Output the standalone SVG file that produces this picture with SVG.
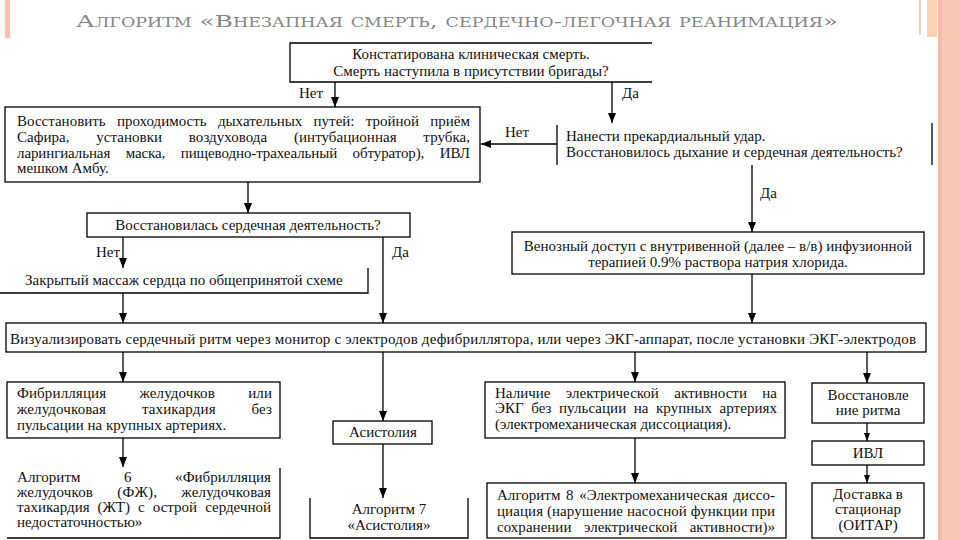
<svg xmlns="http://www.w3.org/2000/svg" width="960" height="540" viewBox="0 0 960 540" font-family="Liberation Serif, serif">
<style>
.t{font-size:15px;fill:#111}
.c{text-anchor:middle}
.b{fill:#fff;stroke:#000;stroke-width:1.3}
.o{fill:none;stroke:#000;stroke-width:1.3}
.ln{fill:none;stroke:#000;stroke-width:1.3}
.ttl{font-family:"DejaVu Serif","Liberation Serif",serif;font-size:17px;fill:#858585;font-variant:small-caps}
</style>
<defs>
<marker id="ar" markerUnits="userSpaceOnUse" markerWidth="10" markerHeight="8" refX="10" refY="4" orient="auto"><path d="M0,0 L10,4 L0,8 z" fill="#000"/></marker>
<marker id="as" markerUnits="userSpaceOnUse" markerWidth="8" markerHeight="6" refX="8" refY="3" orient="auto"><path d="M0,0 L8,3 L0,6 z" fill="#000"/></marker>
</defs>
<rect width="960" height="540" fill="#fff"/>
<g id="decor">
<rect x="5" y="0" width="5" height="38" fill="#f8c2ac"/>
<rect x="919" y="0" width="2" height="35" fill="#ead3c4"/>
<rect x="927" y="0" width="10" height="37" fill="#fbd2b6"/>
<rect x="938" y="0" width="22" height="540" fill="#f9c8b6"/>
<rect x="938" y="0" width="4" height="540" fill="#f6bca6"/>
</g>
<text class="ttl" x="76" y="27" textLength="762" lengthAdjust="spacingAndGlyphs">Алгоритм «Внезапная смерть, сердечно-легочная реанимация»</text>
<g id="connectors">
<path class="ln" d="M335,82 V107" marker-end="url(#ar)"/>
<path class="ln" d="M612,82 V123" marker-end="url(#ar)"/>
<path class="ln" d="M557,144 H481" marker-end="url(#ar)"/>
<path class="ln" d="M752,165 V232" marker-end="url(#ar)"/>
<path class="ln" d="M248,182 V213" marker-end="url(#ar)"/>
<path class="ln" d="M123,237 V268" marker-end="url(#ar)"/>
<path class="ln" d="M383,237 V323" marker-end="url(#ar)"/>
<path class="ln" d="M123,293 V323" marker-end="url(#ar)"/>
<path class="ln" d="M752,274 V323" marker-end="url(#ar)"/>
<path class="ln" d="M123,352 V382" marker-end="url(#ar)"/>
<path class="ln" d="M383,352 V421" marker-end="url(#ar)"/>
<path class="ln" d="M635,352 V382" marker-end="url(#ar)"/>
<path class="ln" d="M867,352 V383" marker-end="url(#ar)"/>
<path class="ln" d="M123,438 V467" marker-end="url(#ar)"/>
<path class="ln" d="M383,444 V498" marker-end="url(#ar)"/>
<path class="ln" d="M635,438 V483" marker-end="url(#ar)"/>
<path class="ln" d="M867,423 V441" marker-end="url(#as)"/>
<path class="ln" d="M867,465 V483" marker-end="url(#as)"/>
<text class="t" x="299" y="98">Нет</text>
<text class="t" x="622" y="98">Да</text>
<text class="t" x="505" y="137">Нет</text>
<text class="t" x="760" y="198">Да</text>
<text class="t" x="96" y="257">Нет</text>
<text class="t" x="392" y="257">Да</text>
</g>
<g id="n1">
<path class="o" d="M652,43 H290 V82 H652"/>
<text class="t c" x="471" y="59">Констатирована клиническая смерть.</text>
<text class="t c" x="471" y="76">Смерть наступила в присутствии бригады?</text>
</g>
<g id="n2">
<rect class="b" x="5" y="107" width="475" height="75"/>
<text class="t" x="17" y="126" textLength="453" lengthAdjust="spacing" style="word-spacing:7.5px">Восстановить проходимость дыхательных путей: тройной приём</text>
<text class="t" x="17" y="142" textLength="453" lengthAdjust="spacing" style="word-spacing:23px">Сафира, установки воздуховода (интубационная трубка,</text>
<text class="t" x="17" y="158" textLength="453" lengthAdjust="spacing" style="word-spacing:11.9px">ларингиальная маска, пищеводно-трахеальный обтуратор), ИВЛ</text>
<text class="t" x="17" y="173">мешком Амбу.</text>
</g>
<g id="n3">
<path class="o" d="M557,125 V165 M932,123 V165"/>
<text class="t" x="566" y="141">Нанести прекардиальный удар.</text>
<text class="t" x="566" y="157">Восстановилось дыхание и сердечная деятельность?</text>
</g>
<g id="n4">
<rect class="b" x="512" y="232" width="412" height="42"/>
<text class="t c" x="718" y="251">Венозный доступ с внутривенной (далее – в/в) инфузионной</text>
<text class="t c" x="718" y="267">терапией 0.9% раствора натрия хлорида.</text>
</g>
<g id="n5">
<rect class="b" x="87" y="213" width="323" height="24"/>
<text class="t c" x="248" y="230">Восстановилась сердечная деятельность?</text>
</g>
<g id="n6">
<path class="o" d="M0,293 H368 V268"/>
<text class="t" x="25" y="285">Закрытый массаж сердца по общепринятой схеме</text>
</g>
<g id="n7">
<rect class="b" x="6" y="323" width="920" height="29"/>
<text class="t" x="10" y="344" textLength="906" lengthAdjust="spacing">Визуализировать сердечный ритм через монитор с электродов дефибриллятора, или через ЭКГ-аппарат, после установки ЭКГ-электродов</text>
</g>
<g id="n8">
<rect class="b" x="7" y="382" width="273" height="56"/>
<text class="t" x="17" y="398" textLength="255" lengthAdjust="spacing" style="word-spacing:29.4px">Фибрилляция желудочков или</text>
<text class="t" x="17" y="414" textLength="255" lengthAdjust="spacing" style="word-spacing:32px">желудочковая тахикардия без</text>
<text class="t" x="17" y="430">пульсации на крупных артериях.</text>
</g>
<g id="n9">
<rect class="b" x="333" y="421" width="99" height="23"/>
<text class="t c" x="383" y="437">Асистолия</text>
</g>
<g id="n10">
<rect class="b" x="485" y="382" width="300" height="56"/>
<text class="t" x="495" y="398" textLength="282" lengthAdjust="spacing" style="word-spacing:11.6px">Наличие электрической активности на</text>
<text class="t" x="495" y="413" textLength="282" lengthAdjust="spacing" style="word-spacing:3.6px">ЭКГ без пульсации на крупных артериях</text>
<text class="t" x="495" y="429">(электромеханическая диссоциация).</text>
</g>
<g id="n11">
<path class="o" d="M7,538 H280 V468"/>
<text class="t" x="17" y="482" textLength="254" lengthAdjust="spacing" style="word-spacing:39.7px">Алгоритм 6 «Фибрилляция</text>
<text class="t" x="17" y="497" textLength="254" lengthAdjust="spacing" style="word-spacing:20.2px">желудочков (ФЖ), желудочковая</text>
<text class="t" x="17" y="512" textLength="254" lengthAdjust="spacing" style="word-spacing:4.3px">тахикардия (ЖТ) с острой сердечной</text>
<text class="t" x="17" y="527">недостаточностью»</text>
</g>
<g id="n12">
<path class="o" d="M310,498 V538 H468 V498"/>
<text class="t c" x="389" y="514">Алгоритм 7</text>
<text class="t c" x="389" y="530">«Асистолия»</text>
</g>
<g id="n13">
<rect class="b" x="487" y="483" width="299" height="55"/>
<text class="t" x="497" y="500" textLength="278" lengthAdjust="spacing" style="word-spacing:1.9px">Алгоритм 8 «Электромеханическая диссо-</text>
<text class="t" x="497" y="516" textLength="278" lengthAdjust="spacing">циация (нарушение насосной функции при</text>
<text class="t" x="497" y="532" textLength="278" lengthAdjust="spacing" style="word-spacing:8.7px">сохранении электрической активности)»</text>
</g>
<g id="n14">
<rect class="b" x="812" y="383" width="112" height="40"/>
<text class="t c" x="868" y="400">Восстановле</text>
<text class="t c" x="868" y="415">ние ритма</text>
</g>
<g id="n15">
<rect class="b" x="812" y="441" width="112" height="24"/>
<text class="t c" x="868" y="458">ИВЛ</text>
</g>
<g id="n16">
<rect class="b" x="812" y="483" width="112" height="55"/>
<text class="t c" x="868" y="499">Доставка в</text>
<text class="t c" x="868" y="514">стационар</text>
<text class="t c" x="868" y="530">(ОИТАР)</text>
</g>
</svg>
